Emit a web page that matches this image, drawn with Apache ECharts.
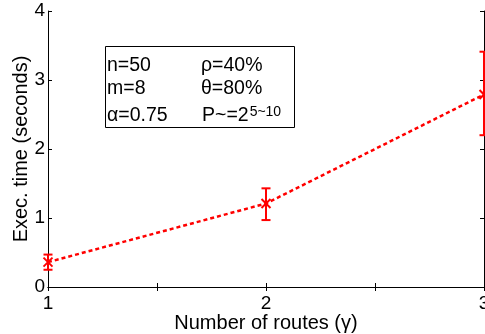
<!DOCTYPE html>
<html><head><meta charset="utf-8">
<script src="https://cdn.jsdelivr.net/npm/echarts@6/dist/echarts.min.js"></script>
<style>html,body{margin:0;padding:0;background:#fff}#c{width:485px;height:334px}</style>
</head><body><div id="c"></div>
<script>
const routes = [1, 2, 3];
const execTime = [0.36, 1.21, 2.79];
const errLow = [0.25, 0.97, 2.20];
const errHigh = [0.47, 1.43, 3.41];
const xTickLabels = ['1', '2', '3'];
const yTickLabels = ['0', '1', '2', '3', '4'];
const xAxisName = 'Number of routes (\u03b3)';
const yAxisName = 'Exec. time (seconds)';

const font = 'Liberation Sans';
const red = '#ff0000';
const chart = echarts.init(document.getElementById('c'));

const lineData = routes.map((x, i) => [x, execTime[i]]);
const errData = routes.map((x, i) => [x, execTime[i], errLow[i], errHigh[i]]);

const axisCommon = {
  type: 'value',
  axisLine: { show: true, lineStyle: { color: '#000', width: 1 } },
  axisTick: { show: true, inside: true, length: 4, lineStyle: { color: '#000' } },
  splitLine: { show: false }
};

const legFs = 19.5, supFs = 14;
const cv = document.createElement('canvas').getContext('2d');
cv.font = legFs + 'px "' + font + '"';
const pW = cv.measureText('P~=2').width;

function t(x, y, text, fs) {
  return { type: 'text', x: x, y: y, z: 11,
    style: { text: text, fontSize: fs, fontFamily: font, fill: '#000', verticalAlign: 'middle' } };
}

chart.setOption({
  animation: false,
  grid: { left: 48, right: 1, top: 11, bottom: 47, containLabel: false, outerBoundsMode: 'none' },
  xAxis: [
    Object.assign({}, axisCommon, {
      min: 1, max: 3, interval: 0.5, position: 'bottom',
      name: xAxisName, nameLocation: 'middle', nameGap: 26, nameMoveOverlap: false,
      nameTextStyle: { fontFamily: font, fontSize: 20, color: '#000' },
      axisLabel: { show: true, margin: 7, fontFamily: font, fontSize: 19, color: '#000',
        showMinLabel: true, showMaxLabel: true,
        formatter: v => (Number.isInteger(v) ? xTickLabels[v - 1] : '') }
    }),
    Object.assign({}, axisCommon, {
      min: 1, max: 3, interval: 0.5, position: 'top', axisLabel: { show: false }
    })
  ],
  yAxis: [
    Object.assign({}, axisCommon, {
      min: 0, max: 4, interval: 1, position: 'left',
      name: yAxisName, nameLocation: 'middle', nameGap: 17, nameMoveOverlap: false,
      nameTextStyle: { fontFamily: font, fontSize: 20, color: '#000' },
      axisLabel: { show: true, margin: 3, fontFamily: font, fontSize: 19, color: '#000',
        formatter: v => yTickLabels[v] }
    }),
    Object.assign({}, axisCommon, {
      min: 0, max: 4, interval: 1, position: 'right', axisLabel: { show: false }
    })
  ],
  series: [
    {
      type: 'line', data: lineData, symbol: 'none', clip: false,
      lineStyle: { color: red, width: 2.5, type: [4, 3] }
    },
    {
      type: 'custom', data: errData, clip: false,
      renderItem: function (params, api) {
        const p = api.coord([api.value(0), api.value(1)]);
        const lo = api.coord([api.value(0), api.value(2)]);
        const hi = api.coord([api.value(0), api.value(3)]);
        const cw = 4.5, m = 4.5;
        const st = { stroke: red, lineWidth: 2 };
        return {
          type: 'group',
          children: [
            { type: 'line', shape: { x1: p[0], y1: lo[1], x2: p[0], y2: hi[1] }, style: st },
            { type: 'line', shape: { x1: p[0] - cw, y1: lo[1], x2: p[0] + cw, y2: lo[1] }, style: st },
            { type: 'line', shape: { x1: p[0] - cw, y1: hi[1], x2: p[0] + cw, y2: hi[1] }, style: st },
            { type: 'line', shape: { x1: p[0] - m, y1: p[1] - m, x2: p[0] + m, y2: p[1] + m }, style: st },
            { type: 'line', shape: { x1: p[0] - m, y1: p[1] + m, x2: p[0] + m, y2: p[1] - m }, style: st }
          ]
        };
      }
    }
  ],
  graphic: [
    { type: 'rect', shape: { x: 105.5, y: 46.5, width: 189, height: 81 },
      style: { fill: '#fff', stroke: '#000', lineWidth: 1 }, z: 10 },
    t(107, 65.5, 'n=50', legFs),
    t(107, 89, 'm=8', legFs),
    t(107, 116, '\u03b1=0.75', legFs),
    t(201, 65.5, '\u03c1=40%', legFs),
    t(201, 89, '\u03b8=80%', legFs),
    t(202, 116, 'P~=2', legFs),
    t(202 + pW + 1, 112.5, '5~10', supFs)
  ]
});
</script></body></html>
